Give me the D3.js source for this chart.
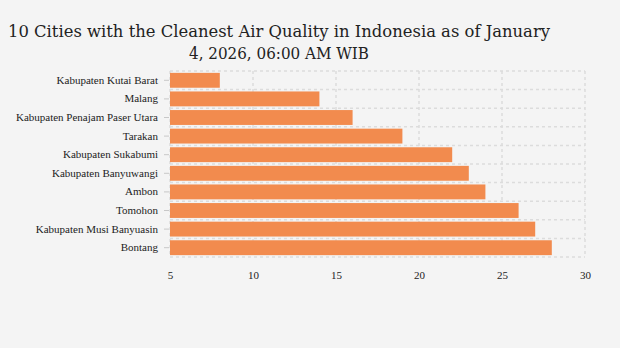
<!DOCTYPE html>
<html>
<head>
<meta charset="utf-8">
<script src="https://cdn.jsdelivr.net/npm/d3@7"></script>
<style>
  body { margin: 0; background: #f4f4f4; }
  svg { display: block; }
</style>
</head>
<body>
<div id="chart"></div>
<script>
// data
var cities = ["Kabupaten Kutai Barat", "Malang", "Kabupaten Penajam Paser Utara", "Tarakan",
  "Kabupaten Sukabumi", "Kabupaten Banyuwangi", "Ambon", "Tomohon",
  "Kabupaten Musi Banyuasin", "Bontang"];
var values = [8, 14, 16, 19, 22, 23, 24, 26, 27, 28];
var xTicks = [5, 10, 15, 20, 25, 30];
var titleLines = ["10 Cities with the Cleanest Air Quality in Indonesia as of January",
  "4, 2026, 06:00 AM WIB"];

var data = cities.map(function(c, i) { return {city: c, value: values[i]}; });

var W = 620, H = 348;
var margin = {top: 71, right: 35, bottom: 91, left: 170},
    width = W - margin.left - margin.right,
    height = H - margin.top - margin.bottom;

var svgRoot = d3.select("#chart").append("svg")
  .attr("width", W).attr("height", H)
  .style("background", "#f4f4f4");

// title
svgRoot.append("g").selectAll("text")
  .data(titleLines)
  .enter().append("text")
    .attr("x", 279)
    .attr("y", function(d, i) { return 37 + i * 22; })
    .attr("text-anchor", "middle")
    .attr("font-family", "'DejaVu Serif', serif")
    .attr("font-size", 16.5)
    .attr("fill", "#222")
    .attr("textLength", function(d, i) { return i == 0 ? 542 : 180; })
    .attr("lengthAdjust", "spacingAndGlyphs")
    .text(function(d) { return d; });

var svg = svgRoot.append("g")
  .attr("transform", "translate(" + margin.left + "," + margin.top + ")");

var x = d3.scaleLinear().domain([5, 30]).range([0, width]);
var y = d3.scaleBand().domain(cities).range([0, height]).paddingInner(0.2).paddingOuter(0.1);

// grid
var gridColor = "#dcdcdc";
svg.append("g").selectAll("line.v")
  .data(xTicks)
  .enter().append("line")
    .attr("x1", function(d) { return x(d); })
    .attr("x2", function(d) { return x(d); })
    .attr("y1", 0).attr("y2", height)
    .attr("stroke", gridColor).attr("stroke-width", 1.5)
    .attr("stroke-dasharray", "3,3");

var edges = cities.map(function(c) { return y(c) - y.step() * y.paddingInner() / 2; });
edges.push(height);
edges[0] = 0;
svg.append("g").selectAll("line.h")
  .data(edges)
  .enter().append("line")
    .attr("x1", 0).attr("x2", width)
    .attr("y1", function(d) { return d; })
    .attr("y2", function(d) { return d; })
    .attr("stroke", gridColor).attr("stroke-width", 1.5)
    .attr("stroke-dasharray", "3,3");

// bars
svg.selectAll("rect")
  .data(data)
  .enter().append("rect")
    .attr("x", x(5))
    .attr("y", function(d) { return y(d.city); })
    .attr("width", function(d) { return x(d.value) - x(5); })
    .attr("height", y.bandwidth())
    .attr("fill", "#f28b4e");

// y axis
var yAxis = svg.append("g")
  .call(d3.axisLeft(y).tickSize(5).tickPadding(7));
yAxis.select(".domain").remove();
yAxis.selectAll(".tick line").attr("stroke", "#c8c8c8").attr("transform", "translate(-1,0)");
yAxis.selectAll("text")
  .attr("font-family", "'Liberation Serif', serif")
  .attr("font-size", 11)
  .attr("fill", "#222");

// x axis
var xAxis = svg.append("g")
  .attr("transform", "translate(0," + height + ")")
  .call(d3.axisBottom(x).tickValues(xTicks).tickSize(0).tickPadding(14));
xAxis.select(".domain").remove();
xAxis.selectAll("text")
  .attr("font-family", "'Liberation Serif', serif")
  .attr("font-size", 11)
  .attr("fill", "#222");
</script>
</body>
</html>
